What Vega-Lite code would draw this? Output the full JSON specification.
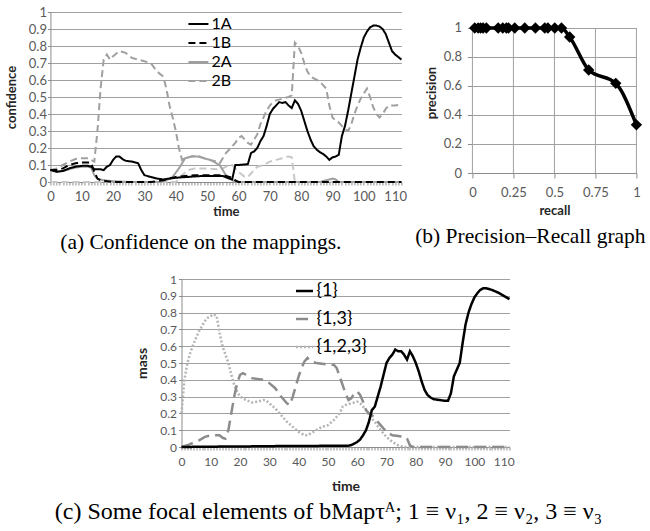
{
"$schema":"https://vega.github.io/schema/vega-lite/v6.json",
"background":"white",
"padding":{"left":5,"top":6,"right":0,"bottom":0},
"config":{"view":{"stroke":null},"font":"Lato",
"axis":{"labelFont":"Lato","titleFont":"Lato","labelColor":"#595959","titleColor":"#262626","domainColor":"#8c8c8c","tickColor":"#8c8c8c","gridColor":"#a0a0a0","labelFlush":false,"labelOverlap":false,"labelBound":false,"titleFontWeight":"bold"},
"legend":{"labelFont":"Lato","labelColor":"black","padding":0}},
"title":{"text":"(c) Some focal elements of bMapτᴬ; 1 ≡ ν₁, 2 ≡ ν₂, 3 ≡ ν₃","orient":"bottom","anchor":"middle","font":"Liberation Serif","fontSize":24,"fontWeight":"normal","color":"black","offset":7,"dx":3},
"resolve":{"scale":{"color":"independent","strokeDash":"independent","strokeWidth":"independent"},"legend":{"color":"independent","strokeDash":"independent","strokeWidth":"independent"}},
"datasets":{
"a":[
{"t":0,"s":"3B","v":0},{"t":40,"s":"3B","v":0},{"t":42,"s":"3B","v":0.04},{"t":44,"s":"3B","v":0.07},{"t":46,"s":"3B","v":0.08},{"t":50,"s":"3B","v":0.08},{"t":53,"s":"3B","v":0.075},{"t":55,"s":"3B","v":0.08},{"t":57,"s":"3B","v":0.1},{"t":58,"s":"3B","v":0.1},{"t":60,"s":"3B","v":0.06},{"t":62,"s":"3B","v":0.03},{"t":63,"s":"3B","v":0.03},{"t":64,"s":"3B","v":0.05},{"t":65,"s":"3B","v":0.07},{"t":66,"s":"3B","v":0.09},{"t":68,"s":"3B","v":0.1},{"t":70,"s":"3B","v":0.12},{"t":72,"s":"3B","v":0.13},{"t":74,"s":"3B","v":0.14},{"t":76,"s":"3B","v":0.15},{"t":77,"s":"3B","v":0.145},{"t":78,"s":"3B","v":0},{"t":112,"s":"3B","v":0},
{"t":0,"s":"2A","v":0.075},{"t":1,"s":"2A","v":0.065},{"t":2,"s":"2A","v":0.06},{"t":4,"s":"2A","v":0.065},{"t":6,"s":"2A","v":0.075},{"t":8,"s":"2A","v":0.085},{"t":10,"s":"2A","v":0.09},{"t":12,"s":"2A","v":0.09},{"t":13,"s":"2A","v":0.085},{"t":14,"s":"2A","v":0.04},{"t":15,"s":"2A","v":0.02},{"t":17,"s":"2A","v":0.01},{"t":20,"s":"2A","v":0.005},{"t":25,"s":"2A","v":0},{"t":35,"s":"2A","v":0},{"t":37,"s":"2A","v":0.01},{"t":39,"s":"2A","v":0.03},{"t":41,"s":"2A","v":0.08},{"t":43,"s":"2A","v":0.14},{"t":45,"s":"2A","v":0.15},{"t":47,"s":"2A","v":0.15},{"t":49,"s":"2A","v":0.14},{"t":51,"s":"2A","v":0.13},{"t":53,"s":"2A","v":0.11},{"t":54,"s":"2A","v":0.1},{"t":56,"s":"2A","v":0.04},{"t":58,"s":"2A","v":0.01},{"t":60,"s":"2A","v":0},{"t":86,"s":"2A","v":0},{"t":88,"s":"2A","v":0.01},{"t":90,"s":"2A","v":0.02},{"t":91,"s":"2A","v":0.015},{"t":92,"s":"2A","v":0},{"t":112,"s":"2A","v":0},
{"t":0,"s":"2B","v":0.07},{"t":2,"s":"2B","v":0.08},{"t":4,"s":"2B","v":0.1},{"t":6,"s":"2B","v":0.12},{"t":8,"s":"2B","v":0.135},{"t":10,"s":"2B","v":0.14},{"t":12,"s":"2B","v":0.14},{"t":13,"s":"2B","v":0.13},{"t":14,"s":"2B","v":0.12},{"t":15,"s":"2B","v":0.3},{"t":16,"s":"2B","v":0.55},{"t":17,"s":"2B","v":0.72},{"t":18,"s":"2B","v":0.75},{"t":19,"s":"2B","v":0.72},{"t":20,"s":"2B","v":0.74},{"t":22,"s":"2B","v":0.77},{"t":24,"s":"2B","v":0.76},{"t":26,"s":"2B","v":0.73},{"t":28,"s":"2B","v":0.72},{"t":30,"s":"2B","v":0.71},{"t":32,"s":"2B","v":0.7},{"t":34,"s":"2B","v":0.65},{"t":36,"s":"2B","v":0.62},{"t":37,"s":"2B","v":0.55},{"t":38,"s":"2B","v":0.45},{"t":39,"s":"2B","v":0.38},{"t":40,"s":"2B","v":0.3},{"t":41,"s":"2B","v":0.2},{"t":42,"s":"2B","v":0.13},{"t":43,"s":"2B","v":0.14},{"t":45,"s":"2B","v":0.15},{"t":47,"s":"2B","v":0.155},{"t":49,"s":"2B","v":0.14},{"t":51,"s":"2B","v":0.13},{"t":53,"s":"2B","v":0.12},{"t":54,"s":"2B","v":0.11},{"t":55,"s":"2B","v":0.14},{"t":56,"s":"2B","v":0.17},{"t":57,"s":"2B","v":0.19},{"t":58,"s":"2B","v":0.21},{"t":59,"s":"2B","v":0.23},{"t":60,"s":"2B","v":0.26},{"t":61,"s":"2B","v":0.27},{"t":62,"s":"2B","v":0.25},{"t":63,"s":"2B","v":0.23},{"t":64,"s":"2B","v":0.22},{"t":65,"s":"2B","v":0.25},{"t":66,"s":"2B","v":0.28},{"t":67,"s":"2B","v":0.34},{"t":68,"s":"2B","v":0.38},{"t":69,"s":"2B","v":0.42},{"t":70,"s":"2B","v":0.45},{"t":71,"s":"2B","v":0.47},{"t":72,"s":"2B","v":0.48},{"t":74,"s":"2B","v":0.49},{"t":76,"s":"2B","v":0.5},{"t":77,"s":"2B","v":0.51},{"t":78,"s":"2B","v":0.82},{"t":79,"s":"2B","v":0.8},{"t":80,"s":"2B","v":0.76},{"t":81,"s":"2B","v":0.7},{"t":82,"s":"2B","v":0.65},{"t":83,"s":"2B","v":0.62},{"t":85,"s":"2B","v":0.6},{"t":86,"s":"2B","v":0.59},{"t":87,"s":"2B","v":0.57},{"t":88,"s":"2B","v":0.55},{"t":89,"s":"2B","v":0.45},{"t":90,"s":"2B","v":0.38},{"t":91,"s":"2B","v":0.36},{"t":92,"s":"2B","v":0.35},{"t":93,"s":"2B","v":0.33},{"t":94,"s":"2B","v":0.31},{"t":95,"s":"2B","v":0.3},{"t":96,"s":"2B","v":0.34},{"t":97,"s":"2B","v":0.4},{"t":98,"s":"2B","v":0.45},{"t":99,"s":"2B","v":0.49},{"t":100,"s":"2B","v":0.52},{"t":101,"s":"2B","v":0.55},{"t":102,"s":"2B","v":0.5},{"t":103,"s":"2B","v":0.44},{"t":104,"s":"2B","v":0.4},{"t":105,"s":"2B","v":0.38},{"t":106,"s":"2B","v":0.4},{"t":107,"s":"2B","v":0.43},{"t":108,"s":"2B","v":0.45},{"t":110,"s":"2B","v":0.45},{"t":112,"s":"2B","v":0.455},
{"t":0,"s":"1B","v":0.07},{"t":2,"s":"1B","v":0.07},{"t":4,"s":"1B","v":0.08},{"t":6,"s":"1B","v":0.1},{"t":8,"s":"1B","v":0.11},{"t":10,"s":"1B","v":0.115},{"t":12,"s":"1B","v":0.115},{"t":13,"s":"1B","v":0.11},{"t":14,"s":"1B","v":0.06},{"t":15,"s":"1B","v":0.02},{"t":16,"s":"1B","v":0.01},{"t":18,"s":"1B","v":0.005},{"t":20,"s":"1B","v":0},{"t":32,"s":"1B","v":0},{"t":34,"s":"1B","v":0.005},{"t":36,"s":"1B","v":0.01},{"t":38,"s":"1B","v":0.02},{"t":40,"s":"1B","v":0.03},{"t":43,"s":"1B","v":0.035},{"t":46,"s":"1B","v":0.04},{"t":50,"s":"1B","v":0.04},{"t":54,"s":"1B","v":0.04},{"t":56,"s":"1B","v":0.035},{"t":58,"s":"1B","v":0.025},{"t":59,"s":"1B","v":0.01},{"t":60,"s":"1B","v":0},{"t":112,"s":"1B","v":0},
{"t":0,"s":"1A","v":0.07},{"t":1,"s":"1A","v":0.065},{"t":2,"s":"1A","v":0.06},{"t":4,"s":"1A","v":0.065},{"t":6,"s":"1A","v":0.08},{"t":8,"s":"1A","v":0.09},{"t":10,"s":"1A","v":0.095},{"t":12,"s":"1A","v":0.095},{"t":13,"s":"1A","v":0.09},{"t":14,"s":"1A","v":0.075},{"t":16,"s":"1A","v":0.075},{"t":17,"s":"1A","v":0.07},{"t":18,"s":"1A","v":0.09},{"t":19,"s":"1A","v":0.1},{"t":20,"s":"1A","v":0.13},{"t":21,"s":"1A","v":0.15},{"t":22,"s":"1A","v":0.15},{"t":23,"s":"1A","v":0.135},{"t":24,"s":"1A","v":0.125},{"t":26,"s":"1A","v":0.12},{"t":28,"s":"1A","v":0.11},{"t":29,"s":"1A","v":0.07},{"t":30,"s":"1A","v":0.04},{"t":32,"s":"1A","v":0.03},{"t":34,"s":"1A","v":0.02},{"t":36,"s":"1A","v":0.015},{"t":38,"s":"1A","v":0.02},{"t":40,"s":"1A","v":0.025},{"t":44,"s":"1A","v":0.03},{"t":48,"s":"1A","v":0.035},{"t":52,"s":"1A","v":0.035},{"t":55,"s":"1A","v":0.035},{"t":57,"s":"1A","v":0.02},{"t":58,"s":"1A","v":0.015},{"t":59,"s":"1A","v":0.1},{"t":60,"s":"1A","v":0.1},{"t":63,"s":"1A","v":0.105},{"t":64,"s":"1A","v":0.17},{"t":65,"s":"1A","v":0.18},{"t":66,"s":"1A","v":0.2},{"t":67,"s":"1A","v":0.24},{"t":68,"s":"1A","v":0.27},{"t":69,"s":"1A","v":0.33},{"t":70,"s":"1A","v":0.4},{"t":71,"s":"1A","v":0.43},{"t":72,"s":"1A","v":0.45},{"t":73,"s":"1A","v":0.47},{"t":74,"s":"1A","v":0.465},{"t":75,"s":"1A","v":0.47},{"t":76,"s":"1A","v":0.45},{"t":77,"s":"1A","v":0.435},{"t":78,"s":"1A","v":0.48},{"t":79,"s":"1A","v":0.46},{"t":80,"s":"1A","v":0.42},{"t":81,"s":"1A","v":0.36},{"t":82,"s":"1A","v":0.3},{"t":83,"s":"1A","v":0.25},{"t":84,"s":"1A","v":0.21},{"t":85,"s":"1A","v":0.19},{"t":86,"s":"1A","v":0.175},{"t":87,"s":"1A","v":0.165},{"t":88,"s":"1A","v":0.15},{"t":89,"s":"1A","v":0.13},{"t":90,"s":"1A","v":0.145},{"t":91,"s":"1A","v":0.15},{"t":92,"s":"1A","v":0.16},{"t":93,"s":"1A","v":0.27},{"t":94,"s":"1A","v":0.33},{"t":95,"s":"1A","v":0.42},{"t":96,"s":"1A","v":0.52},{"t":97,"s":"1A","v":0.62},{"t":98,"s":"1A","v":0.72},{"t":99,"s":"1A","v":0.79},{"t":100,"s":"1A","v":0.85},{"t":101,"s":"1A","v":0.885},{"t":102,"s":"1A","v":0.91},{"t":103,"s":"1A","v":0.92},{"t":104,"s":"1A","v":0.92},{"t":105,"s":"1A","v":0.915},{"t":106,"s":"1A","v":0.9},{"t":107,"s":"1A","v":0.87},{"t":108,"s":"1A","v":0.82},{"t":109,"s":"1A","v":0.77},{"t":110,"s":"1A","v":0.75},{"t":111,"s":"1A","v":0.735},{"t":112,"s":"1A","v":0.72}
],
"b":[
{"recall":0.014,"precision":1},{"recall":0.035,"precision":1},{"recall":0.05,"precision":1},{"recall":0.065,"precision":1},{"recall":0.085,"precision":1},{"recall":0.157,"precision":1},{"recall":0.185,"precision":1},{"recall":0.207,"precision":1},{"recall":0.22,"precision":1},{"recall":0.258,"precision":1},{"recall":0.319,"precision":1},{"recall":0.384,"precision":1},{"recall":0.441,"precision":1},{"recall":0.46,"precision":1},{"recall":0.502,"precision":1},{"recall":0.543,"precision":1},{"recall":0.593,"precision":0.938},{"recall":0.709,"precision":0.71},{"recall":0.874,"precision":0.618},{"recall":1,"precision":0.332}
],
"c":[
{"t":0,"e":"{1,2,3}","m":0.2},{"t":1,"e":"{1,2,3}","m":0.4},{"t":2,"e":"{1,2,3}","m":0.5},{"t":3,"e":"{1,2,3}","m":0.56},{"t":4,"e":"{1,2,3}","m":0.61},{"t":5,"e":"{1,2,3}","m":0.65},{"t":6,"e":"{1,2,3}","m":0.69},{"t":7,"e":"{1,2,3}","m":0.72},{"t":8,"e":"{1,2,3}","m":0.75},{"t":9,"e":"{1,2,3}","m":0.77},{"t":10,"e":"{1,2,3}","m":0.78},{"t":11,"e":"{1,2,3}","m":0.79},{"t":12,"e":"{1,2,3}","m":0.78},{"t":13,"e":"{1,2,3}","m":0.68},{"t":14,"e":"{1,2,3}","m":0.6},{"t":15,"e":"{1,2,3}","m":0.55},{"t":16,"e":"{1,2,3}","m":0.5},{"t":17,"e":"{1,2,3}","m":0.43},{"t":18,"e":"{1,2,3}","m":0.37},{"t":19,"e":"{1,2,3}","m":0.33},{"t":20,"e":"{1,2,3}","m":0.3},{"t":22,"e":"{1,2,3}","m":0.28},{"t":24,"e":"{1,2,3}","m":0.265},{"t":26,"e":"{1,2,3}","m":0.27},{"t":28,"e":"{1,2,3}","m":0.28},{"t":29,"e":"{1,2,3}","m":0.275},{"t":30,"e":"{1,2,3}","m":0.26},{"t":32,"e":"{1,2,3}","m":0.23},{"t":34,"e":"{1,2,3}","m":0.19},{"t":36,"e":"{1,2,3}","m":0.15},{"t":38,"e":"{1,2,3}","m":0.12},{"t":40,"e":"{1,2,3}","m":0.09},{"t":42,"e":"{1,2,3}","m":0.07},{"t":43,"e":"{1,2,3}","m":0.07},{"t":44,"e":"{1,2,3}","m":0.08},{"t":46,"e":"{1,2,3}","m":0.1},{"t":48,"e":"{1,2,3}","m":0.12},{"t":50,"e":"{1,2,3}","m":0.13},{"t":52,"e":"{1,2,3}","m":0.16},{"t":54,"e":"{1,2,3}","m":0.2},{"t":55,"e":"{1,2,3}","m":0.24},{"t":56,"e":"{1,2,3}","m":0.25},{"t":58,"e":"{1,2,3}","m":0.26},{"t":60,"e":"{1,2,3}","m":0.27},{"t":61,"e":"{1,2,3}","m":0.26},{"t":62,"e":"{1,2,3}","m":0.24},{"t":63,"e":"{1,2,3}","m":0.22},{"t":64,"e":"{1,2,3}","m":0.19},{"t":66,"e":"{1,2,3}","m":0.15},{"t":68,"e":"{1,2,3}","m":0.1},{"t":70,"e":"{1,2,3}","m":0.06},{"t":72,"e":"{1,2,3}","m":0.03},{"t":74,"e":"{1,2,3}","m":0.01},{"t":76,"e":"{1,2,3}","m":0},{"t":112,"e":"{1,2,3}","m":0},
{"t":0,"e":"{1,3}","m":0},{"t":2,"e":"{1,3}","m":0.01},{"t":4,"e":"{1,3}","m":0.025},{"t":6,"e":"{1,3}","m":0.04},{"t":8,"e":"{1,3}","m":0.06},{"t":10,"e":"{1,3}","m":0.07},{"t":13,"e":"{1,3}","m":0.07},{"t":14,"e":"{1,3}","m":0.055},{"t":15,"e":"{1,3}","m":0.05},{"t":16,"e":"{1,3}","m":0.1},{"t":17,"e":"{1,3}","m":0.2},{"t":18,"e":"{1,3}","m":0.3},{"t":19,"e":"{1,3}","m":0.38},{"t":20,"e":"{1,3}","m":0.43},{"t":21,"e":"{1,3}","m":0.44},{"t":22,"e":"{1,3}","m":0.43},{"t":24,"e":"{1,3}","m":0.41},{"t":26,"e":"{1,3}","m":0.405},{"t":28,"e":"{1,3}","m":0.4},{"t":30,"e":"{1,3}","m":0.38},{"t":32,"e":"{1,3}","m":0.35},{"t":34,"e":"{1,3}","m":0.3},{"t":36,"e":"{1,3}","m":0.26},{"t":37,"e":"{1,3}","m":0.25},{"t":38,"e":"{1,3}","m":0.3},{"t":39,"e":"{1,3}","m":0.36},{"t":40,"e":"{1,3}","m":0.42},{"t":41,"e":"{1,3}","m":0.47},{"t":42,"e":"{1,3}","m":0.51},{"t":43,"e":"{1,3}","m":0.53},{"t":44,"e":"{1,3}","m":0.51},{"t":46,"e":"{1,3}","m":0.5},{"t":48,"e":"{1,3}","m":0.495},{"t":50,"e":"{1,3}","m":0.49},{"t":52,"e":"{1,3}","m":0.49},{"t":53,"e":"{1,3}","m":0.47},{"t":54,"e":"{1,3}","m":0.42},{"t":55,"e":"{1,3}","m":0.37},{"t":56,"e":"{1,3}","m":0.32},{"t":57,"e":"{1,3}","m":0.28},{"t":58,"e":"{1,3}","m":0.29},{"t":59,"e":"{1,3}","m":0.32},{"t":60,"e":"{1,3}","m":0.33},{"t":61,"e":"{1,3}","m":0.31},{"t":62,"e":"{1,3}","m":0.27},{"t":63,"e":"{1,3}","m":0.22},{"t":64,"e":"{1,3}","m":0.2},{"t":65,"e":"{1,3}","m":0.19},{"t":66,"e":"{1,3}","m":0.17},{"t":67,"e":"{1,3}","m":0.15},{"t":68,"e":"{1,3}","m":0.13},{"t":69,"e":"{1,3}","m":0.11},{"t":70,"e":"{1,3}","m":0.09},{"t":71,"e":"{1,3}","m":0.08},{"t":72,"e":"{1,3}","m":0.07},{"t":74,"e":"{1,3}","m":0.065},{"t":76,"e":"{1,3}","m":0.06},{"t":77,"e":"{1,3}","m":0.05},{"t":78,"e":"{1,3}","m":0.01},{"t":79,"e":"{1,3}","m":0},{"t":112,"e":"{1,3}","m":0},
{"t":0,"e":"{1}","m":0},{"t":10,"e":"{1}","m":0.002},{"t":20,"e":"{1}","m":0.003},{"t":30,"e":"{1}","m":0.005},{"t":40,"e":"{1}","m":0.006},{"t":50,"e":"{1}","m":0.007},{"t":57,"e":"{1}","m":0.008},{"t":58,"e":"{1}","m":0.012},{"t":59,"e":"{1}","m":0.02},{"t":60,"e":"{1}","m":0.03},{"t":61,"e":"{1}","m":0.045},{"t":62,"e":"{1}","m":0.07},{"t":63,"e":"{1}","m":0.1},{"t":64,"e":"{1}","m":0.15},{"t":65,"e":"{1}","m":0.22},{"t":66,"e":"{1}","m":0.24},{"t":67,"e":"{1}","m":0.3},{"t":68,"e":"{1}","m":0.36},{"t":69,"e":"{1}","m":0.43},{"t":70,"e":"{1}","m":0.5},{"t":71,"e":"{1}","m":0.53},{"t":72,"e":"{1}","m":0.55},{"t":73,"e":"{1}","m":0.58},{"t":74,"e":"{1}","m":0.57},{"t":75,"e":"{1}","m":0.57},{"t":76,"e":"{1}","m":0.55},{"t":77,"e":"{1}","m":0.52},{"t":78,"e":"{1}","m":0.57},{"t":79,"e":"{1}","m":0.54},{"t":80,"e":"{1}","m":0.5},{"t":81,"e":"{1}","m":0.45},{"t":82,"e":"{1}","m":0.39},{"t":83,"e":"{1}","m":0.34},{"t":84,"e":"{1}","m":0.31},{"t":85,"e":"{1}","m":0.295},{"t":86,"e":"{1}","m":0.285},{"t":88,"e":"{1}","m":0.28},{"t":90,"e":"{1}","m":0.275},{"t":91,"e":"{1}","m":0.275},{"t":92,"e":"{1}","m":0.32},{"t":93,"e":"{1}","m":0.42},{"t":94,"e":"{1}","m":0.46},{"t":95,"e":"{1}","m":0.5},{"t":96,"e":"{1}","m":0.62},{"t":97,"e":"{1}","m":0.73},{"t":98,"e":"{1}","m":0.8},{"t":99,"e":"{1}","m":0.85},{"t":100,"e":"{1}","m":0.89},{"t":101,"e":"{1}","m":0.915},{"t":102,"e":"{1}","m":0.935},{"t":103,"e":"{1}","m":0.945},{"t":104,"e":"{1}","m":0.945},{"t":106,"e":"{1}","m":0.935},{"t":108,"e":"{1}","m":0.92},{"t":110,"e":"{1}","m":0.9},{"t":112,"e":"{1}","m":0.88}
]},
"vconcat":[
{"hconcat":[
{"width":351,"height":170,
"title":{"text":"(a) Confidence on the mappings.","orient":"bottom","anchor":"middle","frame":"bounds","dx":-5,"offset":14,"font":"Liberation Serif","fontSize":21.5,"fontWeight":"normal","color":"black"},
"data":{"name":"a"},
"mark":{"type":"line","strokeWidth":2},
"encoding":{
"x":{"field":"t","type":"quantitative","scale":{"domain":[0,112],"nice":false},"axis":{"title":"time","tickCount":112,"labelExpr":"datum.value % 10 === 0 ? datum.label : ''","grid":false,"tickSize":3,"labelPadding":5,"labelFontSize":13,"titleFontSize":13,"titlePadding":2}},
"y":{"field":"v","type":"quantitative","scale":{"domain":[0,1],"nice":false},"axis":{"title":"confidence","values":[0,0.1,0.2,0.3,0.4,0.5,0.6,0.7,0.8,0.9,1],"format":".1~f","grid":true,"tickSize":3,"labelPadding":1,"labelFontSize":13,"titleFontSize":13,"titlePadding":10}},
"color":{"field":"s","type":"nominal","scale":{"domain":["1A","1B","2A","2B","3B"],"range":["#000000","#000000","#a0a0a0","#a0a0a0","#c8c8c8"]},"legend":{"title":null,"values":["1A","1B","2A","2B"],"orient":"none","legendX":137,"legendY":1,"symbolType":"stroke","symbolSize":400,"symbolStrokeWidth":2,"labelFontSize":16,"rowPadding":0,"labelOffset":2}},
"strokeDash":{"field":"s","type":"nominal","scale":{"domain":["1A","1B","2A","2B","3B"],"range":[[1,0],[7,4],[1,0],[7,4],[7,4]]},"legend":{"title":null,"values":["1A","1B","2A","2B"],"orient":"none","legendX":137,"legendY":1,"symbolType":"stroke","symbolSize":400,"symbolStrokeWidth":2,"labelFontSize":16,"rowPadding":0,"labelOffset":2}}
}},
{"width":164,"height":161,
"title":{"text":"(b) Precision–Recall graph","orient":"bottom","anchor":"middle","frame":"bounds","dx":-4,"offset":9,"font":"Liberation Serif","fontSize":21.5,"fontWeight":"normal","color":"black"},
"encoding":{"x":{"field":"recall","type":"quantitative","scale":{"domain":[0,1],"nice":false},"axis":{"title":"recall","values":[0,0.25,0.5,0.75,1],"format":".2~f","grid":false,"tickSize":5,"labelPadding":8,"labelFontSize":13,"titleFontSize":13,"titlePadding":5}}},
"layer":[
{"data":{"values":[{"recall":0},{"recall":0.25},{"recall":0.5},{"recall":0.75},{"recall":1}]},
"mark":{"type":"rule","color":"#a0a0a0","strokeWidth":1},
"encoding":{"y":{"datum":0,"type":"quantitative","scale":{"domain":[0,1.11],"nice":false},"axis":{"title":"precision","values":[0,0.2,0.4,0.6,0.8,1],"format":".1~f","grid":true,"domain":false,"tickSize":5,"labelPadding":6,"labelFontSize":13,"titleFontSize":13,"titlePadding":5}},"y2":{"datum":1}}},
{"data":{"name":"b"},"mark":{"type":"line","color":"black","strokeWidth":3.5,"interpolate":"monotone"},
"encoding":{"y":{"field":"precision","type":"quantitative","scale":{"domain":[0,1.11],"nice":false},"axis":{"title":"precision","values":[0,0.2,0.4,0.6,0.8,1],"format":".1~f","grid":true,"domain":false,"tickSize":5,"labelPadding":6,"labelFontSize":13,"titleFontSize":13,"titlePadding":5}}}},
{"data":{"name":"b"},"mark":{"type":"point","shape":"diamond","filled":true,"color":"black","opacity":1,"size":130},
"encoding":{"y":{"field":"precision","type":"quantitative","scale":{"domain":[0,1.11],"nice":false},"axis":{"title":"precision","values":[0,0.2,0.4,0.6,0.8,1],"format":".1~f","grid":true,"domain":false,"tickSize":5,"labelPadding":6,"labelFontSize":13,"titleFontSize":13,"titlePadding":5}}}}
]}
],"spacing":71,"bounds":"flush",
"resolve":{"scale":{"color":"independent","strokeDash":"independent"},"legend":{"color":"independent","strokeDash":"independent"}}},
{"width":328,"height":168,
"data":{"name":"c"},
"mark":{"type":"line"},
"encoding":{
"x":{"field":"t","type":"quantitative","scale":{"domain":[0,112],"nice":false},"axis":{"title":"time","tickCount":112,"labelExpr":"datum.value % 10 === 0 ? datum.label : ''","grid":false,"tickSize":3,"labelPadding":6,"labelFontSize":12,"titleFontSize":14,"titlePadding":12}},
"y":{"field":"m","type":"quantitative","scale":{"domain":[0,1],"nice":false},"axis":{"title":"mass","values":[0,0.1,0.2,0.3,0.4,0.5,0.6,0.7,0.8,0.9,1],"format":".1~f","grid":true,"tickSize":3,"labelPadding":2,"labelFontSize":12,"titleFontSize":14,"titlePadding":10}},
"color":{"field":"e","type":"nominal","scale":{"domain":["{1}","{1,3}","{1,2,3}"],"range":["#000000","#8c8c8c","#b4b4b4"]},"legend":{"title":null,"orient":"none","legendX":113,"legendY":2,"symbolType":"stroke","symbolSize":289,"symbolStrokeWidth":2.5,"labelFontSize":18,"rowPadding":9,"labelOffset":2}},
"strokeDash":{"field":"e","type":"nominal","scale":{"domain":["{1}","{1,3}","{1,2,3}"],"range":[[1,0],[12,6],[2,2]]},"legend":{"title":null,"orient":"none","legendX":113,"legendY":2,"symbolType":"stroke","symbolSize":289,"symbolStrokeWidth":2.5,"labelFontSize":18,"rowPadding":9,"labelOffset":2}},
"strokeWidth":{"field":"e","type":"nominal","scale":{"domain":["{1}","{1,3}","{1,2,3}"],"range":[2.5,2.5,1.5]},"legend":null}
}}
],
"spacing":19,
"center":true
}
